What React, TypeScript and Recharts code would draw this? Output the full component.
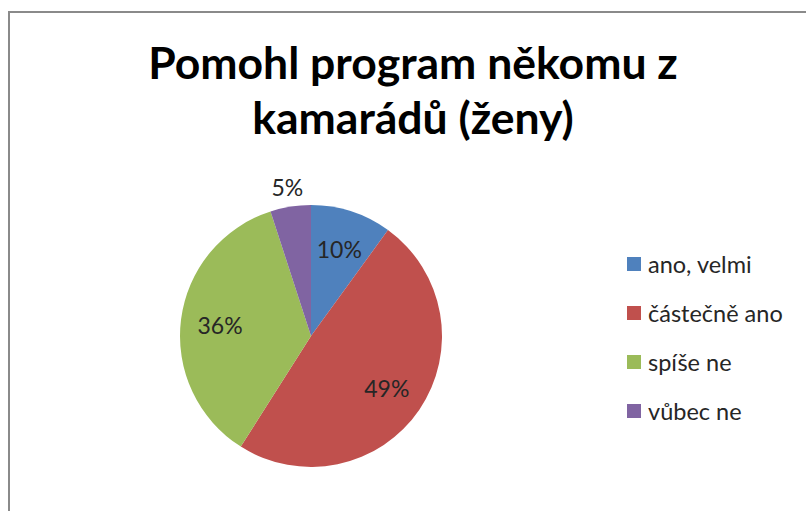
import { PieChart, Pie, Cell, Legend } from "recharts";

const categories = ["ano, velmi", "částečně ano", "spíše ne", "vůbec ne"];
const shares = [10, 49, 36, 5];
const colors = ["#4F81BD", "#C0504D", "#9BBB59", "#8064A2"];
const titleLines = ["Pomohl program někomu z", "kamarádů (ženy)"];

const data = categories.map((name, i) => ({ name, value: shares[i] }));

const RAD = Math.PI / 180;
const font = "Lato, 'Liberation Sans', sans-serif";

function renderLabel(props: any) {
  const { cx, cy, midAngle, outerRadius, value } = props;
  // small slice label sits outside, like Excel's best fit
  const r = value < 8 ? outerRadius + 20 : outerRadius * 0.7;
  const x = cx + r * Math.cos(-midAngle * RAD);
  const y = cy + r * Math.sin(-midAngle * RAD);
  return (
    <text
      x={x}
      y={y}
      fill="#262626"
      fontSize={23}
      fontFamily={font}
      textAnchor="middle"
      dominantBaseline="central"
    >
      {value}%
    </text>
  );
}

function renderLegend() {
  return (
    <div style={{ fontFamily: font, fontSize: 23.5, color: "#262626" }}>
      {data.map((d, i) => (
        <div
          key={d.name}
          style={{ display: "flex", alignItems: "center", height: 49 }}
        >
          <span
            style={{
              display: "inline-block",
              width: 14,
              height: 14,
              background: colors[i],
              marginRight: 7,
            }}
          />
          {d.name}
        </div>
      ))}
    </div>
  );
}

export default function App() {
  return (
    <div
      style={{
        position: "absolute",
        left: 0,
        top: 0,
        width: 806,
        height: 511,
        overflow: "hidden",
        background: "#fff",
      }}
    >
      <div
        style={{
          position: "absolute",
          left: 8,
          top: 11,
          width: 820,
          height: 520,
          border: "2px solid #8a8a8a",
        }}
      />
      <div
        style={{
          position: "absolute",
          left: 0,
          top: 34,
          width: 826,
          textAlign: "center",
          fontFamily: font,
          fontWeight: 700,
          fontSize: 44.5,
          lineHeight: "55px",
          color: "#000",
        }}
      >
        {titleLines.map((t) => (
          <div key={t}>{t}</div>
        ))}
      </div>
      <PieChart
        width={806}
        height={511}
        margin={{ top: 0, right: 0, bottom: 0, left: 0 }}
        style={{ position: "absolute", left: 0, top: 0 }}
      >
        <Pie
          data={data}
          dataKey="value"
          nameKey="name"
          cx={311}
          cy={336}
          outerRadius={131}
          startAngle={90}
          endAngle={-270}
          stroke="none"
          label={renderLabel}
          labelLine={false}
          isAnimationActive={false}
        >
          {data.map((d, i) => (
            <Cell key={d.name} fill={colors[i]} />
          ))}
        </Pie>
        <Legend
          content={renderLegend}
          wrapperStyle={{ position: "absolute", left: 627, top: 239, width: 180 }}
        />
      </PieChart>
    </div>
  );
}
